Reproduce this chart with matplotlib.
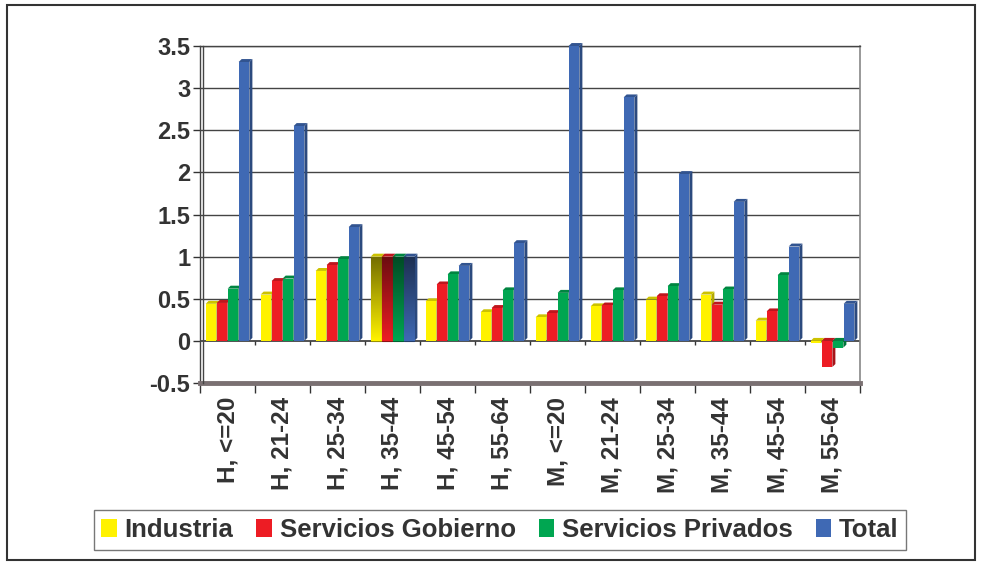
import matplotlib
matplotlib.use('Agg')
import matplotlib.pyplot as plt
import numpy as np
from matplotlib.patches import Polygon, Patch, Rectangle
from matplotlib.colors import to_rgb

plt.rcParams['font.family'] = ['Liberation Sans', 'DejaVu Sans']
plt.rcParams['font.weight'] = 'bold'

# ---- data ----
categories = ['H, <=20', 'H, 21-24', 'H, 25-34', 'H, 35-44', 'H, 45-54', 'H, 55-64',
              'M, <=20', 'M, 21-24', 'M, 25-34', 'M, 35-44', 'M, 45-54', 'M, 55-64']
series_names = ['Industria', 'Servicios Gobierno', 'Servicios Privados', 'Total']
industria = [0.44, 0.55, 0.83, 1.0, 0.47, 0.34, 0.28, 0.41, 0.49, 0.55, 0.24, -0.03]
gobierno = [0.45, 0.71, 0.90, 1.0, 0.67, 0.39, 0.33, 0.42, 0.53, 0.43, 0.35, -0.31]
privados = [0.62, 0.74, 0.97, 1.0, 0.79, 0.60, 0.57, 0.60, 0.65, 0.61, 0.78, -0.08]
total = [3.31, 2.55, 1.35, 1.0, 0.89, 1.16, 3.50, 2.89, 1.98, 1.65, 1.12, 0.44]
colors = ['#FFF200', '#ED1C24', '#00A651', '#3F69B4']
highlight_group = 3  # the selected-looking group drawn with a gradient

values = [industria, gobierno, privados, total]

fig = plt.figure(figsize=(9.81, 5.62), dpi=100)
fig.patch.set_facecolor('white')
ax = fig.add_axes([200 / 981, 1 - 383 / 562, 660 / 981, 337 / 562])
ax.set_xlim(-0.5, 11.5)
ax.set_ylim(-0.5, 3.5)


def darker(c, f):
    r, g, b = to_rgb(c)
    return (r * f, g * f, b * f)


# gridlines
for yv in np.arange(0.5, 3.51, 0.5):
    ax.axhline(yv, color='#444444', lw=1.0, zorder=0)
ax.axhline(0, color='#333333', lw=1.2, zorder=1)

x = np.arange(len(categories))
w = 0.2
face = 0.195
dx, dy = 0.055, 0.035
for s, (vals, col) in enumerate(zip(values, colors)):
    offs = (s - 1.5) * w
    for i, v in enumerate(vals):
        x0 = x[i] + offs - face / 2
        x1 = x0 + face
        y0, y1 = min(0, v), max(0, v)
        side = Polygon([(x1, y0), (x1 + dx, y0 + dy), (x1 + dx, y1 + dy), (x1, y1)],
                       closed=True, facecolor=darker(col, 0.7), edgecolor='none',
                       zorder=2 + s, clip_on=False)
        top = Polygon([(x0, y1), (x0 + dx, y1 + dy), (x1 + dx, y1 + dy), (x1, y1)],
                      closed=True, facecolor=darker(col, 0.8), edgecolor='none',
                      zorder=2 + s, clip_on=False)
        ax.add_patch(side)
        ax.add_patch(top)
        rect = Rectangle((x0, y0), face, y1 - y0, facecolor=col, edgecolor='none',
                         zorder=2 + s, clip_on=False)
        ax.add_patch(rect)
        if i == highlight_group:
            c1 = np.array(darker(col, 0.45))
            c2 = np.array(to_rgb(col))
            t = np.linspace(0, 1, 64)[:, None]
            grad = (c1 * (1 - t) + c2 * t)[:, None, :]
            im = ax.imshow(grad, extent=(x0, x1, y0, y1), origin='upper',
                           aspect='auto', zorder=2.5 + s)
            im.set_clip_path(rect)
            rect.set_edgecolor(darker(col, 0.6))
            rect.set_linewidth(0.8)

# tick marks on the zero line at group boundaries
bounds = np.arange(-0.5, 12.0, 1.0)
ax.vlines(bounds[1:], -0.05, 0, color='#333333', lw=1.0, zorder=1)

# axes styling
ax.set_xticks(x)
ax.set_xticklabels(categories, rotation=90, fontsize=17.5, color='#333333',
                   fontweight='bold')
ax.tick_params(axis='x', which='major', length=0, pad=10)
ax.set_xticks(bounds, minor=True)
ax.tick_params(axis='x', which='minor', length=7, width=1.0, color='#333333',
               direction='out')
ax.set_yticks(np.arange(-0.5, 3.51, 0.5))
ax.set_yticklabels(['-0.5', '0', '0.5', '1', '1.5', '2', '2.5', '3', '3.5'],
                   fontsize=17, color='#333333', fontweight='bold')
ax.tick_params(axis='y', length=5, width=1.0, color='#333333', pad=2)

ax.spines['top'].set_color('#444444')
ax.spines['top'].set_linewidth(1.0)
ax.spines['right'].set_color('#888888')
ax.spines['right'].set_linewidth(1.2)
ax.spines['left'].set_color('#444444')
ax.spines['left'].set_linewidth(1.0)
ax.spines['bottom'].set_color('#7a7072')
ax.spines['bottom'].set_linewidth(3.5)
# second line of the 3D wall on the left
ax.plot([0.005, 0.005], [0, 1], transform=ax.transAxes, color='#444444',
        lw=1.0, clip_on=False, zorder=5)

# legend
handles = [Patch(facecolor=c, edgecolor='none') for c in colors]
leg = fig.legend(handles, series_names, loc='center', ncol=4,
                 bbox_to_anchor=(500 / 981, 1 - 530 / 562),
                 frameon=True, fancybox=False, edgecolor='#555555',
                 prop={'size': 18.5, 'weight': 'bold'},
                 handlelength=0.6, handleheight=0.75, handletextpad=0.3,
                 columnspacing=0.9, borderpad=0.3, borderaxespad=0)
leg.get_frame().set_linewidth(1.0)
for t in leg.get_texts():
    t.set_color('#333333')

# outer border of the figure
fig.patches.append(Rectangle((7 / 981, 2 / 562), 968 / 981, 555 / 562,
                             transform=fig.transFigure, fill=False,
                             edgecolor='#333333', lw=1.5))

fig.savefig('out.png', dpi=100, facecolor='white')
plt.close(fig)
